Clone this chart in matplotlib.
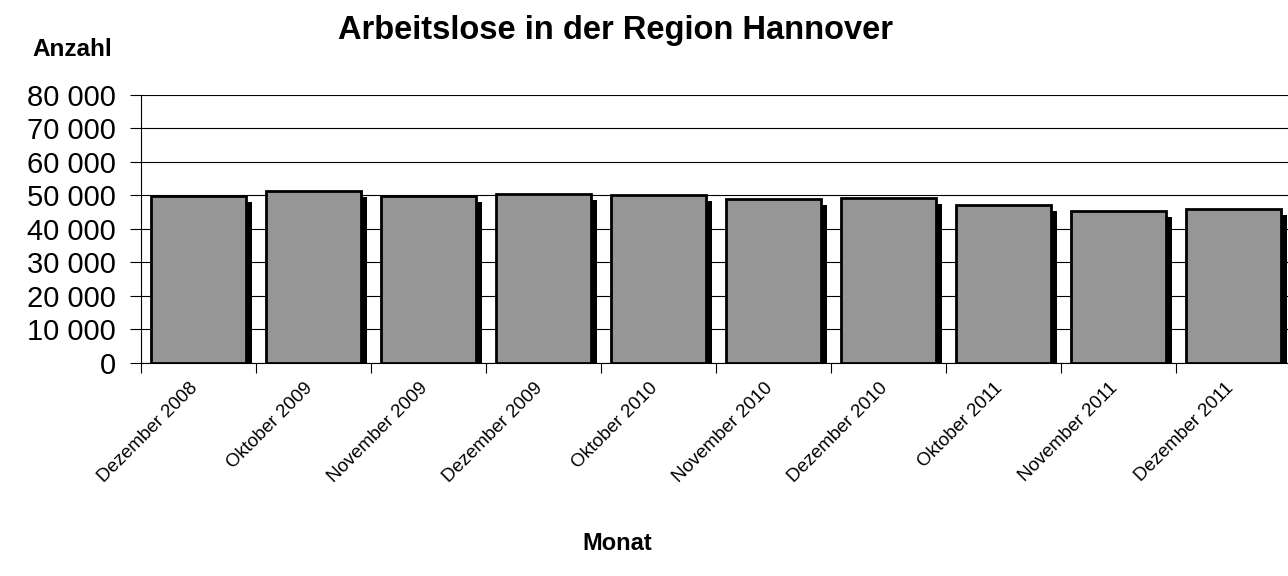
import matplotlib.pyplot as plt
import matplotlib.transforms as mtrans
import numpy as np
from matplotlib.ticker import FuncFormatter

plt.rcParams['font.family'] = ['Liberation Sans', 'DejaVu Sans']

monate = ["Dezember 2008", "Oktober 2009", "November 2009", "Dezember 2009",
          "Oktober 2010", "November 2010", "Dezember 2010", "Oktober 2011",
          "November 2011", "Dezember 2011"]
anzahl = [49700, 51300, 49900, 50500, 50100, 48900, 49300, 47000, 45400, 45900]

fig = plt.figure(figsize=(12.88, 5.76), dpi=100)
ax = fig.add_axes([141 / 1288, 1 - 362.7 / 576, 1150 / 1288, 268 / 576])

x = np.arange(len(monate))
schatten = [v - 1800 for v in anzahl]
ax.bar(x + 0.05, schatten, width=0.83, color='black', zorder=2)
ax.bar(x, anzahl, width=0.83, color='#969696', edgecolor='black', linewidth=2, zorder=3)

ax.set_xlim(-0.5, len(monate) - 0.5)
ax.set_ylim(0, 80000)
ax.set_yticks(range(0, 80001, 10000))
ax.yaxis.set_major_formatter(FuncFormatter(lambda v, p: f"{int(v):,}".replace(",", " ")))
ax.yaxis.grid(True, color='black', linewidth=0.8, zorder=1)
ax.set_axisbelow(True)

ax.set_xticks(np.arange(-0.5, len(monate), 1.0))
ax.set_xticklabels([])
ax.set_xticks(x, minor=True)
ax.set_xticklabels(monate, minor=True, rotation=45, ha='right', va='top',
                   rotation_mode='anchor', fontsize=13.5)
ax.tick_params(axis='x', which='minor', length=0, pad=12)
ax.tick_params(axis='x', which='major', length=7, width=0.8)
ax.tick_params(axis='y', length=8, width=0.8, labelsize=21, pad=10)

# Beschriftungen etwas nach links verschieben
versatz = mtrans.ScaledTranslation(-9 / 100, 0, fig.dpi_scale_trans)
for lbl in ax.get_xticklabels(minor=True):
    lbl.set_transform(lbl.get_transform() + versatz)

for s in ['top', 'right']:
    ax.spines[s].set_visible(False)
ax.spines['left'].set_linewidth(0.8)
ax.spines['bottom'].set_linewidth(0.8)

fig.text(616 / 1288, 1 - 30 / 576, "Arbeitslose in der Region Hannover",
         ha='center', va='center', fontsize=23.5, fontweight='bold')
fig.text(72 / 1288, 1 - 49 / 576, "Anzahl", ha='center', va='center',
         fontsize=17.5, fontweight='bold')
fig.text(617 / 1288, 1 - 543 / 576, "Monat", ha='center', va='center',
         fontsize=17, fontweight='bold')

fig.savefig("out.png", dpi=100)
